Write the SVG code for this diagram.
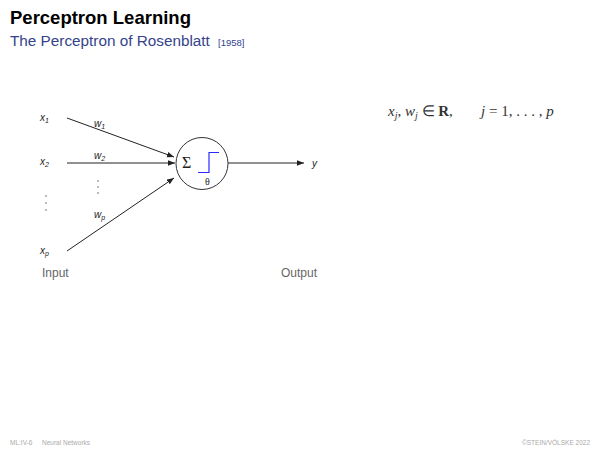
<svg xmlns="http://www.w3.org/2000/svg" width="600" height="450" viewBox="0 0 600 450">
<defs>
<marker id="ah" viewBox="0 0 10 10" refX="10" refY="5" markerWidth="7" markerHeight="7" markerUnits="userSpaceOnUse" orient="auto"><path d="M0,1 L10,5 L0,9 z" fill="#222"/></marker>
<style>
.s{font-family:"Liberation Sans",Arial,sans-serif}
.v{font-family:"Liberation Sans",Arial,sans-serif;font-style:italic;font-size:10px;fill:#222}
.sub{font-size:7px}
.m{font-family:"Liberation Serif","Times New Roman",serif;font-size:15px;fill:#333}
.ln{stroke:#222;stroke-width:1;fill:none}
.lbl{font-family:"Liberation Sans",Arial,sans-serif;font-size:12px;fill:#666}
.ft{font-family:"Liberation Sans",Arial,sans-serif;font-size:6.5px;fill:#aaa}
</style>
</defs>
<rect width="600" height="450" fill="#fff"/>
<text class="s" x="10" y="24" font-size="18.5" font-weight="bold" fill="#000">Perceptron Learning</text>
<text class="s" x="10" y="46" font-size="15.3" fill="#34438c">The Perceptron of Rosenblatt</text>
<text class="s" x="218" y="46" font-size="9.5" fill="#34438c">[1958]</text>

<g id="connectors">
<line class="ln" x1="67" y1="118" x2="174" y2="157" marker-end="url(#ah)"/>
<line class="ln" x1="67" y1="163" x2="175" y2="163" marker-end="url(#ah)"/>
<line class="ln" x1="67" y1="251" x2="174" y2="178" marker-end="url(#ah)"/>
<line class="ln" x1="228" y1="163" x2="304" y2="163" marker-end="url(#ah)"/>
</g>

<g id="inputs">
<text class="v" x="40" y="121">x<tspan class="sub" dy="2">1</tspan></text>
<text class="v" x="40" y="165">x<tspan class="sub" dy="2">2</tspan></text>
<text class="v" x="40" y="254">x<tspan class="sub" dy="2">p</tspan></text>
<g fill="#444"><circle cx="46" cy="196" r="0.7"/><circle cx="46" cy="203" r="0.7"/><circle cx="46" cy="210" r="0.7"/></g>
</g>
<g id="weights">
<text class="v" x="94" y="127">w<tspan class="sub" dy="2">1</tspan></text>
<text class="v" x="94" y="159">w<tspan class="sub" dy="2">2</tspan></text>
<text class="v" x="94" y="218">w<tspan class="sub" dy="2">p</tspan></text>
<g fill="#444"><circle cx="98" cy="181" r="0.7"/><circle cx="98" cy="187" r="0.7"/><circle cx="98" cy="193" r="0.7"/></g>
</g>
<g id="neuron">
<circle cx="202" cy="163.5" r="26" fill="none" stroke="#333" stroke-width="1"/>
<text x="182" y="168" font-family="Liberation Serif,serif" font-size="16" fill="#222">Σ</text>
<path d="M198,172.5 H209 V152.5 H219" fill="none" stroke="#2a2aff" stroke-width="1.2"/>
<text x="205" y="185" font-family="Liberation Serif,serif" font-size="10" fill="#222">θ</text>
</g>
<g id="output">
<text class="v" x="312" y="167">y</text>
</g>
<text class="lbl" x="42" y="277">Input</text>
<text class="lbl" x="281" y="277">Output</text>

<text class="m" x="388" y="116"><tspan font-style="italic">x</tspan><tspan font-style="italic" font-size="10" dy="3">j</tspan><tspan dy="-3">, </tspan><tspan font-style="italic">w</tspan><tspan font-style="italic" font-size="10" dy="3">j</tspan><tspan dy="-3"> ∈ </tspan><tspan font-weight="bold">R</tspan>,</text>
<text class="m" x="481" y="116"><tspan font-style="italic">j</tspan> = 1, . . . , <tspan font-style="italic">p</tspan></text>

<text class="ft" x="10" y="445">ML:IV-6</text>
<text class="ft" x="42" y="445">Neural Networks</text>
<text class="ft" x="590" y="445" text-anchor="end">©STEIN/VÖLSKE 2022</text>
</svg>
